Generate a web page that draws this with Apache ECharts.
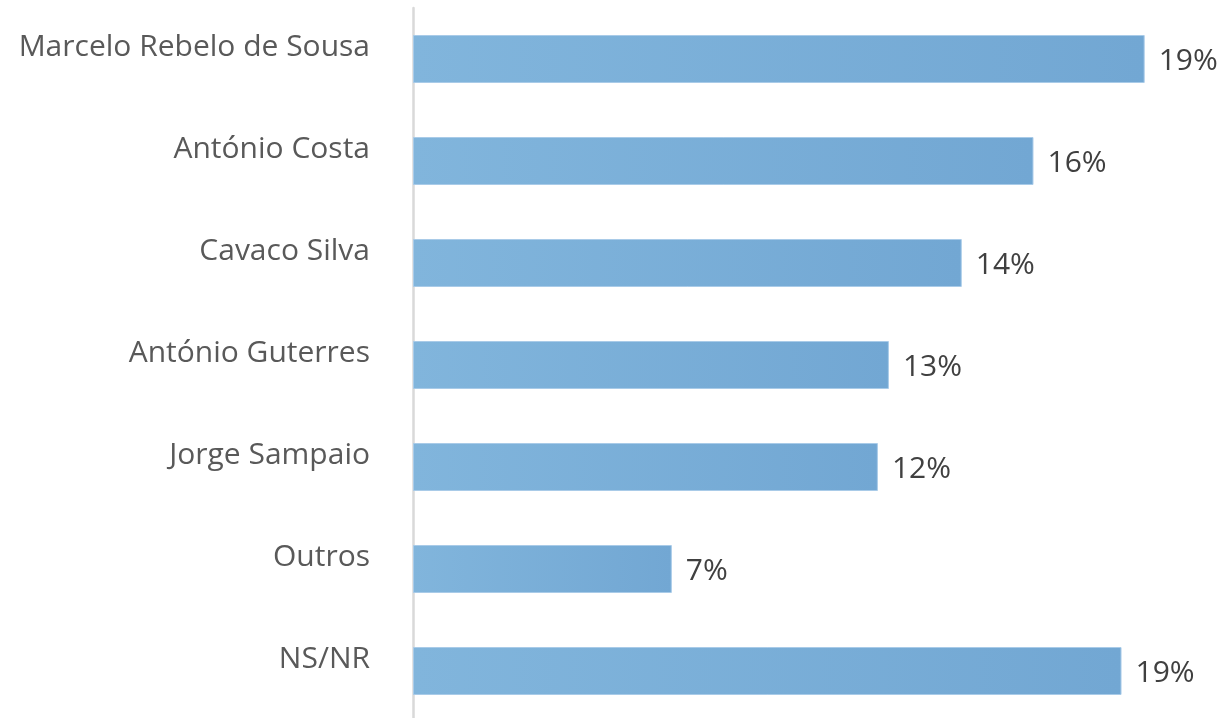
<!DOCTYPE html>
<html>
<head>
<meta charset="utf-8">
<script src="https://cdn.jsdelivr.net/npm/echarts@6/dist/echarts.min.js"></script>
<style>html,body{margin:0;padding:0;background:#fff}#c{width:1224px;height:718px}</style>
</head>
<body>
<div id="c"></div>
<script>
const categories = ["Marcelo Rebelo de Sousa","António Costa","Cavaco Silva","António Guterres","Jorge Sampaio","Outros","NS/NR"];
const values = [19.28, 16.35, 14.46, 12.54, 12.25, 6.82, 18.67];

const chart = echarts.init(document.getElementById('c'), null, {renderer:'canvas'});
chart.setOption({
  animation: false,
  backgroundColor: '#ffffff',
  grid: {left: 413, width: 759, top: 8, height: 714, containLabel: false, outerBoundsMode: 'none'},
  xAxis: {type: 'value', min: 0, max: 20, show: false},
  yAxis: {
    type: 'category', data: categories, inverse: true,
    axisLine: {show: true, lineStyle: {color: '#d9d9d9', width: 2.5}},
    axisTick: {show: false},
    axisLabel: {color: '#595959', fontSize: 30, fontFamily: 'Open Sans', margin: 43,
      verticalAlign: 'bottom', lineHeight: 24}
  },
  series: [{
    type: 'bar', data: values, barWidth: 48,
    itemStyle: {
      color: new echarts.graphic.LinearGradient(0,0,1,0,[{offset:0,color:'#81b5dc'},{offset:1,color:'#72a7d3'}]),
      borderColor: '#a9cbe8', borderWidth: 1
    },
    label: {show: true, position: 'right', distance: 14, color: '#404040', fontSize: 30, fontFamily: 'Open Sans',
      offset: [0, 2],
      formatter: p => Math.round(p.value) + '%'}
  }]
});
</script>
</body>
</html>
